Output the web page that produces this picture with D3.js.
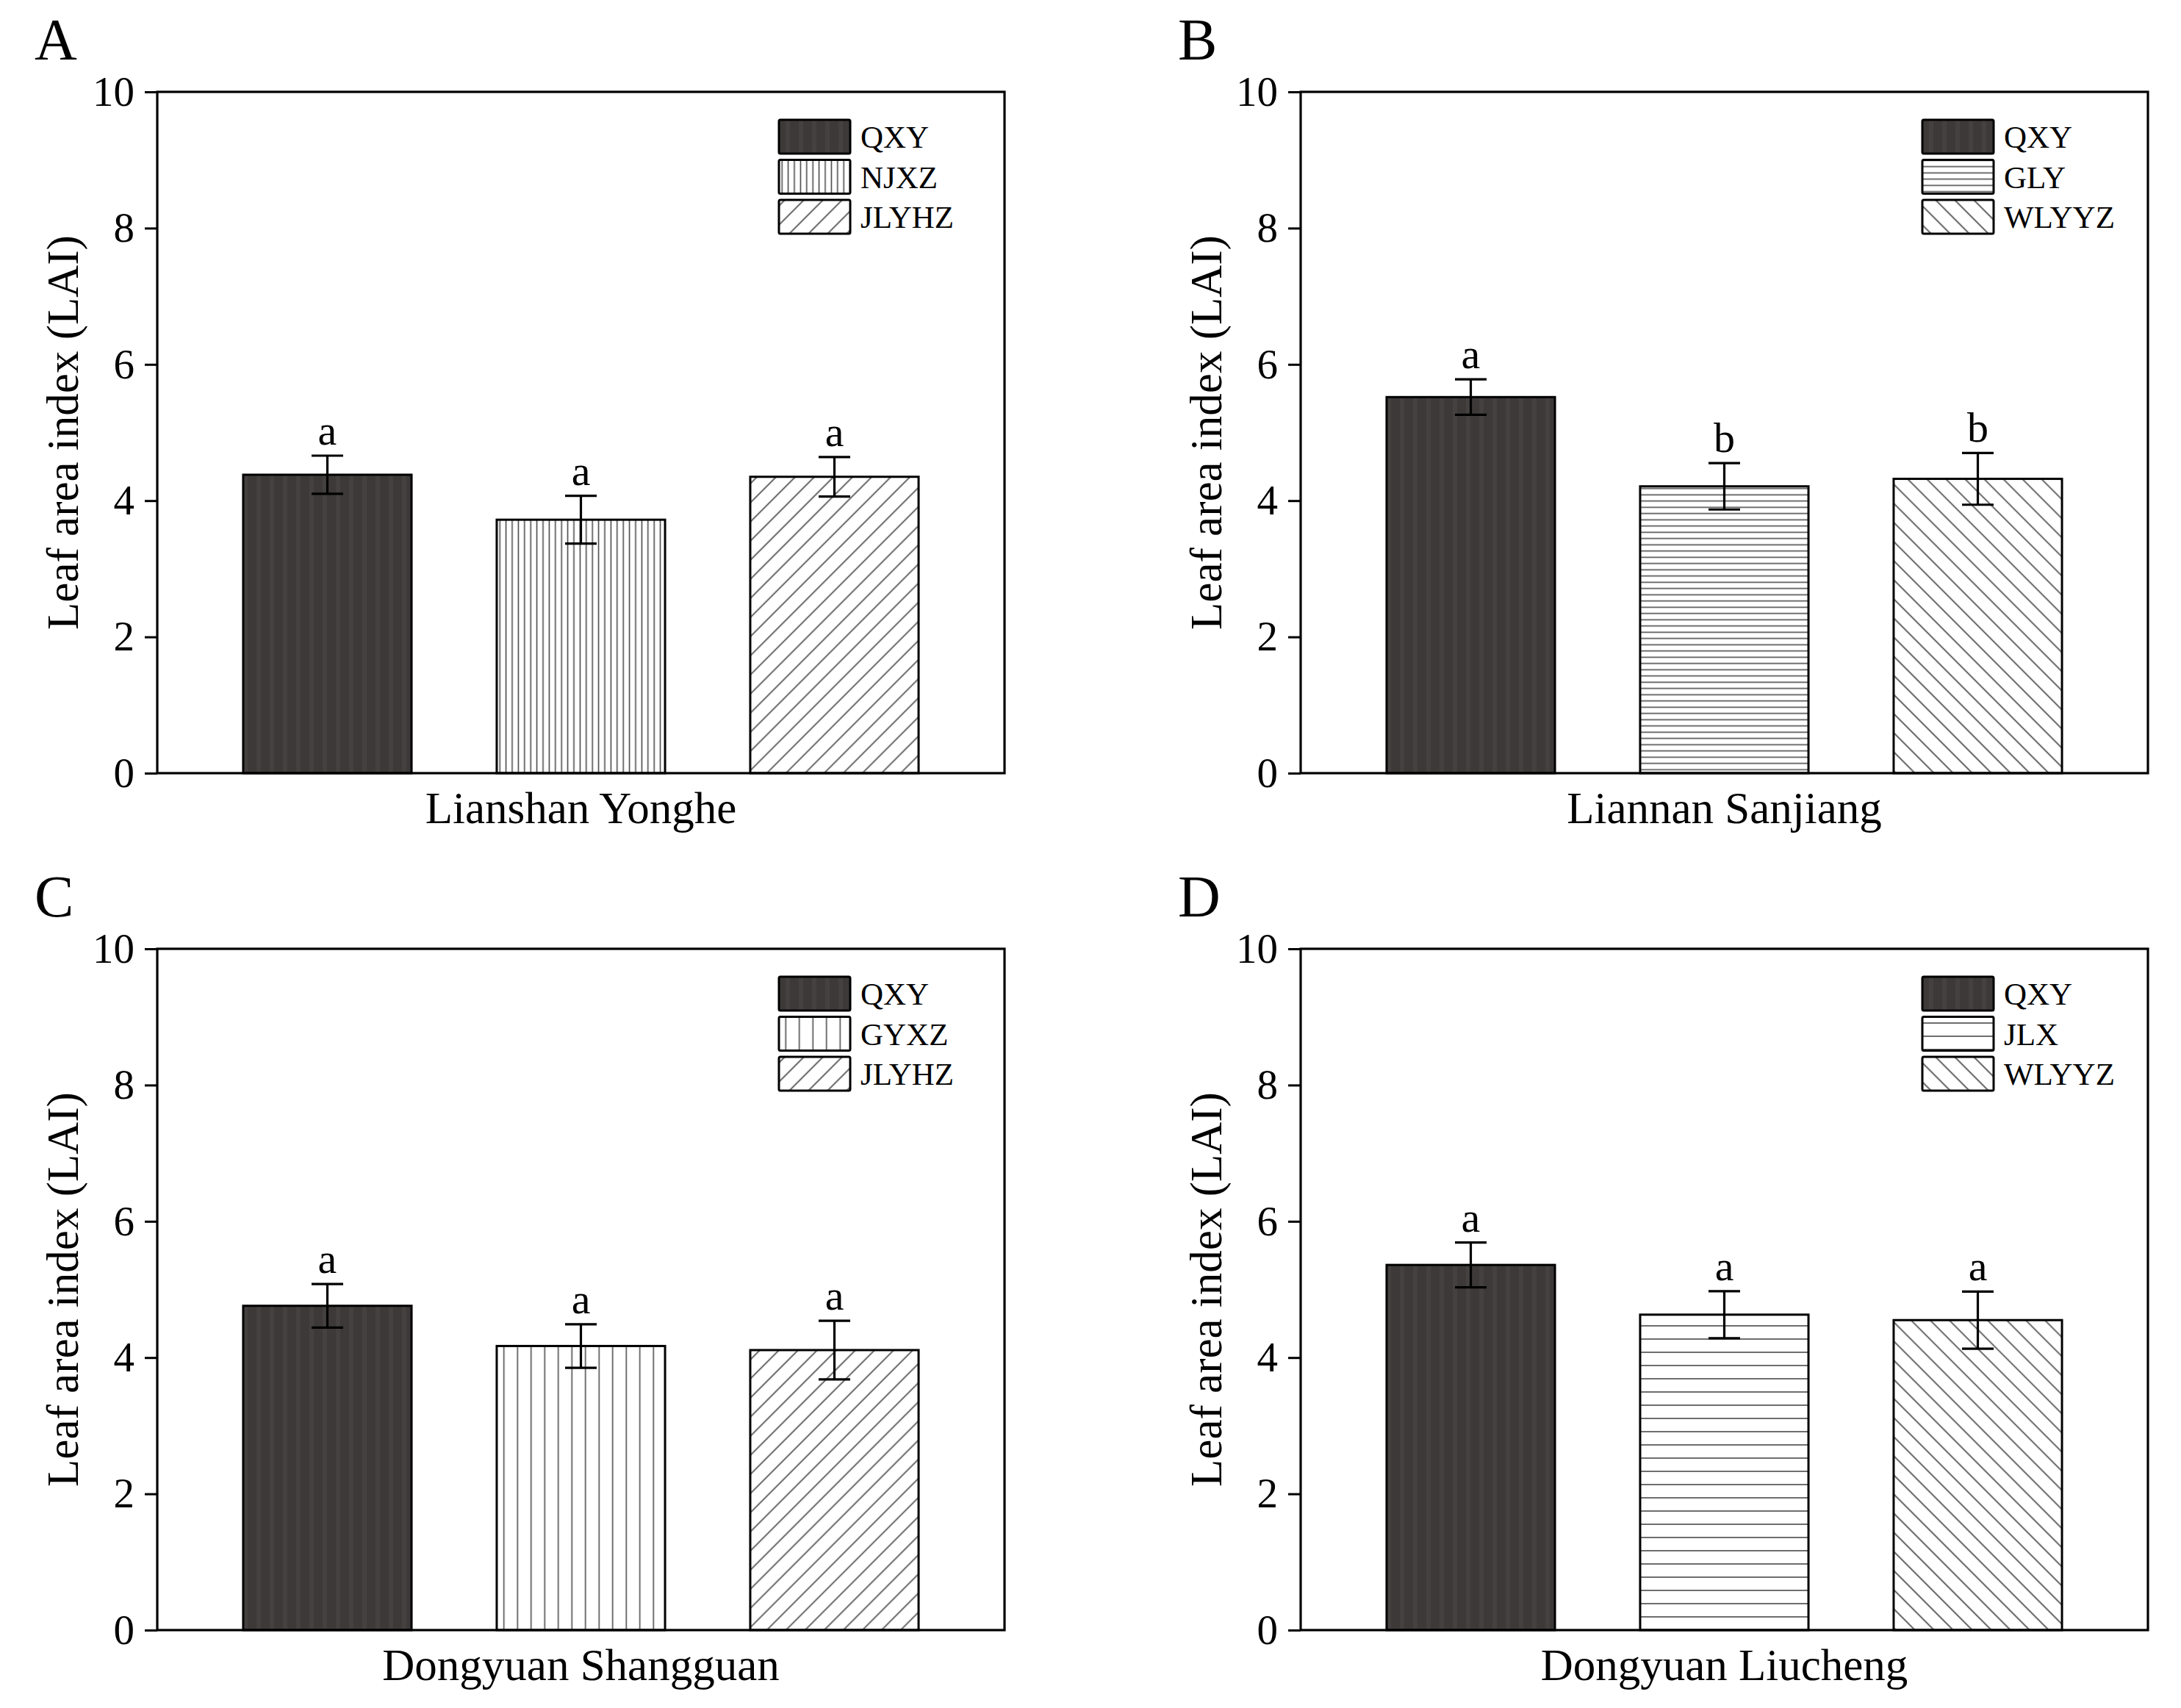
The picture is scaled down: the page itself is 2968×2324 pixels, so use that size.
<!DOCTYPE html>
<html>
<head>
<meta charset="utf-8">
<script src="https://cdn.jsdelivr.net/npm/d3@7"></script>
<style>
  html, body { margin: 0; padding: 0; background: #fff; }
  svg { display: block; }
  text { font-family: "Liberation Serif", "Times New Roman", Times, serif; fill: #000; }
</style>
</head>
<body>
<svg id="chart" width="2968" height="2324"></svg>
<script>
// ---------------- DATA ----------------
const panelLabels = ["A", "B", "C", "D"];
const sites = ["Lianshan Yonghe", "Liannan Sanjiang", "Dongyuan Shangguan", "Dongyuan Liucheng"];
const treatmentsA = ["QXY", "NJXZ", "JLYHZ"];
const treatmentsB = ["QXY", "GLY", "WLYYZ"];
const treatmentsC = ["QXY", "GYXZ", "JLYHZ"];
const treatmentsD = ["QXY", "JLX", "WLYYZ"];
const meansA = [4.38, 3.72, 4.35];
const meansB = [5.52, 4.21, 4.32];
const meansC = [4.76, 4.17, 4.11];
const meansD = [5.36, 4.63, 4.55];
const errorsA = [0.28, 0.35, 0.29];
const errorsB = [0.26, 0.34, 0.38];
const errorsC = [0.32, 0.32, 0.43];
const errorsD = [0.33, 0.345, 0.42];
const lettersA = ["a", "a", "a"];
const lettersB = ["a", "b", "b"];
const lettersC = ["a", "a", "a"];
const lettersD = ["a", "a", "a"];
const yTicks = [0, 2, 4, 6, 8, 10];
const yDomain = [0, 10];
const yTitle = "Leaf area index (LAI)";

const treatments = [treatmentsA, treatmentsB, treatmentsC, treatmentsD];
const means = [meansA, meansB, meansC, meansD];
const errors = [errorsA, errorsB, errorsC, errorsD];
const letters = [lettersA, lettersB, lettersC, lettersD];

// ---------------- STYLE / LAYOUT ----------------
const svg = d3.select("#chart");
const defs = svg.append("defs");

const patternOf = {
  QXY: "pSolid", NJXZ: "pVertDense", GYXZ: "pVertSparse",
  GLY: "pHorizDense", JLX: "pHorizSparse",
  JLYHZ: "pDiagR", WLYYZ: "pDiagL"
};

(function () {
  const p = defs.append("pattern").attr("id", "pSolid")
    .attr("patternUnits", "userSpaceOnUse").attr("width", 18).attr("height", 10);
  p.append("rect").attr("width", 18).attr("height", 10).attr("fill", "#3d3939");
  p.append("rect").attr("x", 9).attr("width", 6).attr("height", 10).attr("fill", "#454141");
})();
function vertPattern(id, s) {
  const p = defs.append("pattern").attr("id", id)
    .attr("patternUnits", "userSpaceOnUse").attr("width", s).attr("height", 10);
  p.append("rect").attr("width", s).attr("height", 10).attr("fill", "#fff");
  p.append("line").attr("x1", s / 2).attr("x2", s / 2).attr("y1", 0).attr("y2", 10)
    .attr("stroke", "#4a4a4a").attr("stroke-width", 1.6);
}
function horizPattern(id, s) {
  const p = defs.append("pattern").attr("id", id)
    .attr("patternUnits", "userSpaceOnUse").attr("width", 10).attr("height", s);
  p.append("rect").attr("width", 10).attr("height", s).attr("fill", "#fff");
  p.append("line").attr("y1", s / 2).attr("y2", s / 2).attr("x1", 0).attr("x2", 10)
    .attr("stroke", "#4a4a4a").attr("stroke-width", 1.6);
}
function diagPattern(id, s, angle) {
  const p = defs.append("pattern").attr("id", id)
    .attr("patternUnits", "userSpaceOnUse").attr("width", s).attr("height", s)
    .attr("patternTransform", `rotate(${angle})`);
  p.append("rect").attr("width", s).attr("height", s).attr("fill", "#fff");
  p.append("line").attr("x1", s / 2).attr("x2", s / 2).attr("y1", 0).attr("y2", s)
    .attr("stroke", "#4a4a4a").attr("stroke-width", 1.7);
}
vertPattern("pVertDense", 8.4);
vertPattern("pVertSparse", 18.5);
horizPattern("pHorizDense", 8.5);
horizPattern("pHorizSparse", 18);
diagPattern("pDiagR", 18.4, 45);
diagPattern("pDiagL", 18.4, -45);

const plotW = 1153, plotH = 927;
const origins = [[214, 125], [1770, 125], [214, 1291], [1770, 1291]];

panelLabels.forEach((lab, i) => {
  const [ox, oy] = origins[i];
  const g = svg.append("g").attr("transform", `translate(${ox},${oy})`);

  const x = d3.scaleBand().domain(treatments[i]).range([0, plotW]).paddingInner(0.336).paddingOuter(0.339);
  const y = d3.scaleLinear().domain(yDomain).range([plotH, 0]);

  const rows = treatments[i].map((t, j) => ({ t, m: means[i][j], e: errors[i][j], l: letters[i][j] }));

  g.selectAll("rect.bar").data(rows).join("rect").attr("class", "bar")
    .attr("x", d => x(d.t)).attr("width", x.bandwidth())
    .attr("y", d => y(d.m)).attr("height", d => y(0) - y(d.m))
    .attr("fill", d => `url(#${patternOf[d.t]})`)
    .attr("stroke", "#000").attr("stroke-width", 3);

  const cap = 43;
  const eb = g.selectAll("g.err").data(rows).join("g").attr("class", "err")
    .attr("stroke", "#000").attr("stroke-width", 3.2);
  eb.append("line")
    .attr("x1", d => x(d.t) + x.bandwidth() / 2).attr("x2", d => x(d.t) + x.bandwidth() / 2)
    .attr("y1", d => y(d.m - d.e)).attr("y2", d => y(d.m + d.e));
  eb.append("line")
    .attr("x1", d => x(d.t) + x.bandwidth() / 2 - cap / 2).attr("x2", d => x(d.t) + x.bandwidth() / 2 + cap / 2)
    .attr("y1", d => y(d.m + d.e)).attr("y2", d => y(d.m + d.e));
  eb.append("line")
    .attr("x1", d => x(d.t) + x.bandwidth() / 2 - cap / 2).attr("x2", d => x(d.t) + x.bandwidth() / 2 + cap / 2)
    .attr("y1", d => y(d.m - d.e)).attr("y2", d => y(d.m - d.e));

  g.selectAll("text.sig").data(rows).join("text").attr("class", "sig")
    .attr("x", d => x(d.t) + x.bandwidth() / 2)
    .attr("y", d => y(d.m + d.e) - 15)
    .attr("text-anchor", "middle").attr("font-size", 58)
    .text(d => d.l);

  const ax = g.append("g").call(d3.axisLeft(y).tickValues(yTicks).tickSize(17).tickPadding(14).tickFormat(d3.format("d")));
  ax.select(".domain").remove();
  ax.selectAll(".tick line").attr("stroke", "#000").attr("stroke-width", 3);
  ax.selectAll(".tick text").attr("font-size", 57)
    .attr("font-family", '"Liberation Serif", "Times New Roman", serif').attr("fill", "#000");

  g.append("rect").attr("x", 0).attr("y", 0).attr("width", plotW).attr("height", plotH)
    .attr("fill", "none").attr("stroke", "#000").attr("stroke-width", 3.2);

  g.append("text").attr("x", plotW / 2).attr("y", plotH + 68)
    .attr("text-anchor", "middle").attr("font-size", 61).text(sites[i]);

  g.append("text").attr("transform", `translate(-108,${plotH / 2}) rotate(-90)`)
    .attr("text-anchor", "middle").attr("font-size", 61).text(yTitle);

  g.append("text").attr("x", -167).attr("y", -44).attr("font-size", 80).text(lab);

  const lg = g.append("g").attr("transform", `translate(${plotW - 307},38)`);
  rows.forEach((d, j) => {
    const yy = j * 54.5;
    lg.append("rect").attr("x", 0).attr("y", yy).attr("width", 97).attr("height", 46)
      .attr("rx", 2).attr("fill", `url(#${patternOf[d.t]})`)
      .attr("stroke", "#000").attr("stroke-width", 3);
    lg.append("text").attr("x", 111).attr("y", yy + 23).attr("dy", "0.35em")
      .attr("font-size", 43).text(d.t);
  });
});
</script>
</body>
</html>
